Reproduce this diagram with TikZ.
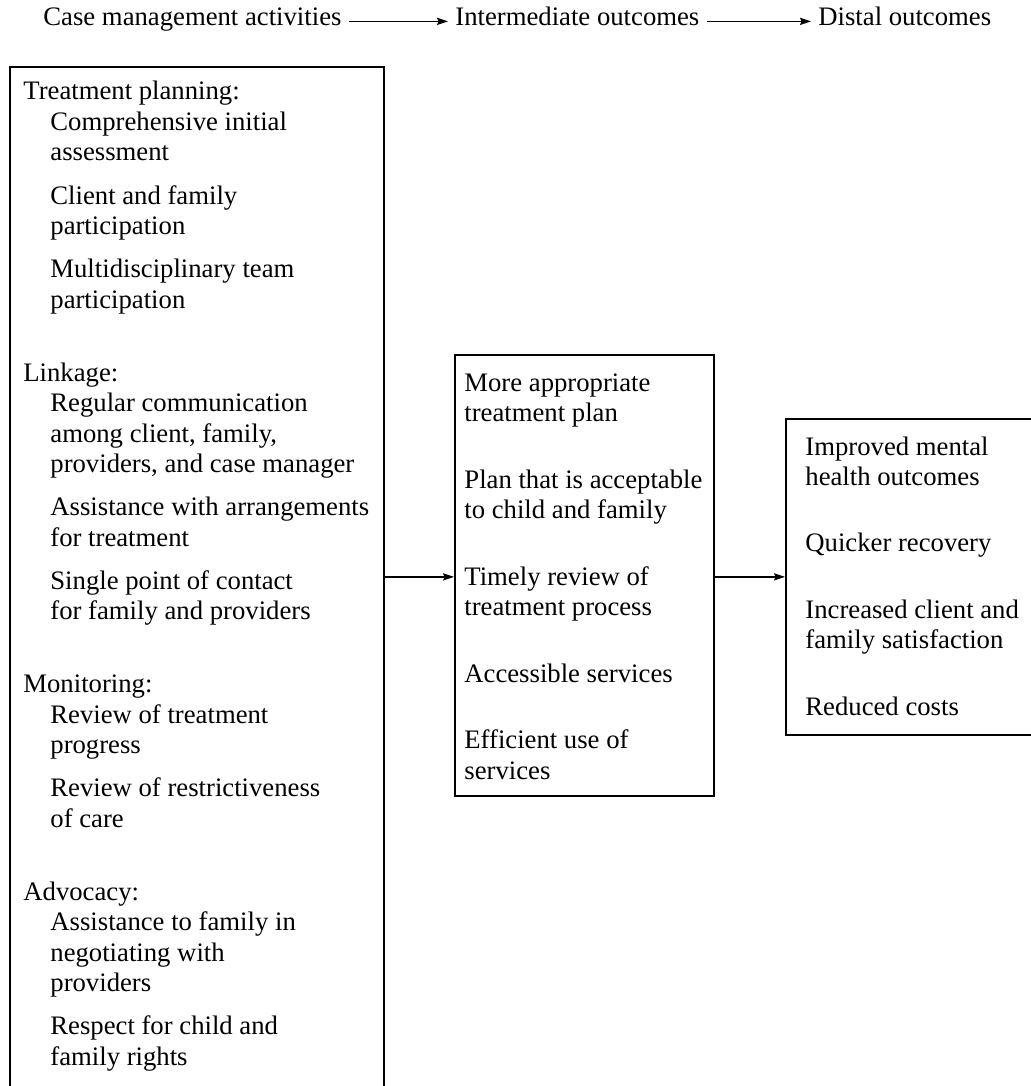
\documentclass[tikz,border=0pt]{standalone}
\usepackage{fontspec}
\setmainfont{Liberation Serif}
\usetikzlibrary{arrows.meta}
\begin{document}
\begin{tikzpicture}[x=0.5pt,y=-0.5pt,
  txt/.style={anchor=base west, inner sep=0pt, font=\fontsize{13.35}{15.25}\selectfont},
  panel/.style={draw, line width=0.9pt, anchor=north west, inner sep=0pt},
  link/.style={line width=0.6pt, -{Stealth[length=5.5pt,width=3.6pt,inset=0.8pt]}},
  gap/.style={shorten <=3.5pt, shorten >=3.5pt}]
\path[use as bounding box, clip] (0,0) rectangle (1031,1086);

% column headings
\node[txt] (h1) at (43,26) {Case management activities};
\node[txt] (h2) at (455,26) {Intermediate outcomes};
\node[txt] (h3) at (818,26) {Distal outcomes};
\draw[link, gap] (h1.mid east) -- (h2.mid west);
\draw[link, gap] (h2.mid east) -- (h3.mid west);

% the three panels
\node[panel, minimum width=187pt, minimum height=560pt] (act) at (9,66) {};
\node[panel, minimum width=129.5pt, minimum height=220.5pt] (mid) at (454,354) {};
\node[panel, minimum width=140pt, minimum height=158pt] (dist) at (785,418) {};

% activities: section headings
\foreach \y/\t [count=\i] in {100/{Treatment planning:}, 381/{Linkage:}, 692.5/{Monitoring:}, 900/{Advocacy:}}
  \node[txt] (sec\i) at (23,\y) {\t};

% activities: items
\foreach \y/\t [count=\i] in {
  130.5/{Comprehensive initial}, 161/{assessment},
  204/{Client and family}, 234.5/{participation},
  277.5/{Multidisciplinary team}, 308/{participation},
  411.5/{Regular communication}, 442/{among client, family,}, 472.5/{providers, and case manager},
  515.5/{Assistance with arrangements}, 546/{for treatment},
  589/{Single point of contact}, 619.5/{for family and providers},
  723/{Review of treatment}, 753.5/{progress},
  796.5/{Review of restrictiveness}, 827/{of care},
  930.5/{Assistance to family in}, 961/{negotiating with}, 991.5/{providers},
  1034.5/{Respect for child and}, 1065/{family rights}}
  \node[txt] (a\i) at (50,\y) {\t};

% intermediate outcomes
\foreach \y/\t [count=\i] in {
  391/{More appropriate}, 421.5/{treatment plan},
  488/{Plan that is acceptable}, 518.5/{to child and family},
  585/{Timely review of}, 615.5/{treatment process},
  682/{Accessible services},
  748.5/{Efficient use of}, 779/{services}}
  \node[txt] (m\i) at (464,\y) {\t};

% distal outcomes
\foreach \y/\t [count=\i] in {
  455/{Improved mental}, 485/{health outcomes},
  551.5/{Quicker recovery},
  618/{Increased client and}, 648.5/{family satisfaction},
  715/{Reduced costs}}
  \node[txt] (d\i) at (805,\y) {\t};

% flow between panels
\draw[link] (act.east |- dist.west) -- (mid.west |- dist.west);
\draw[link] (mid.east |- dist.west) -- (dist.west);
\end{tikzpicture}
\end{document}
